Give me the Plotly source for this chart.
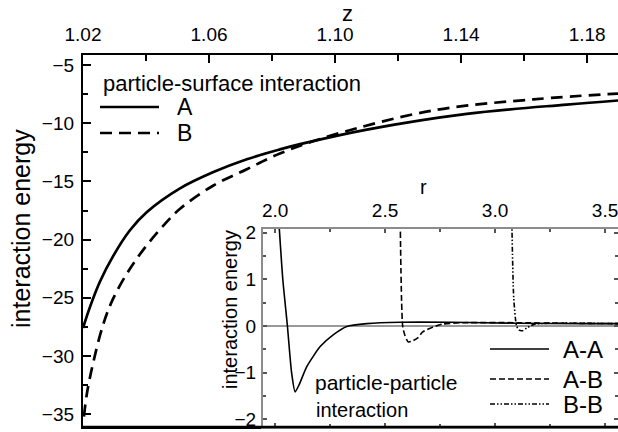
import plotly.graph_objects as go

# ---------------- data ----------------
z_A = [1.0200, 1.0222, 1.0254, 1.0296, 1.0349, 1.0402, 1.0508, 1.0614, 1.0720,
       1.0825, 1.0889, 1.1101, 1.1418, 1.1735, 1.1898]
E_A = [-27.6, -25.8, -23.6, -21.4, -19.2, -17.65, -15.6, -14.2, -13.1,
       -12.25, -11.8, -10.55, -9.2, -8.4, -8.05]

z_B = [1.0203, 1.0212, 1.0233, 1.0264, 1.0296, 1.0349, 1.0402, 1.0455, 1.0508,
       1.0614, 1.0720, 1.0825, 1.0995, 1.1312, 1.1630, 1.1898]
E_B = [-35.2, -33.3, -30.5, -27.3, -25.05, -22.5, -20.5, -18.8, -17.35,
       -15.35, -13.95, -12.6, -11.0, -8.9, -7.95, -7.45]

r_AA = [2.012, 2.035, 2.056, 2.075, 2.091, 2.11, 2.144, 2.205, 2.264, 2.326,
        2.417, 2.57, 2.8, 3.1, 3.4, 3.56]
E_AA = [2.6, 1.0, 0.0, -1.0, -1.41, -1.25, -0.87, -0.44, -0.19, -0.01,
        0.05, 0.08, 0.08, 0.06, 0.05, 0.05]

r_AB = [2.568, 2.58, 2.59, 2.605, 2.62, 2.65, 2.67, 2.72, 2.76, 2.85, 3.1, 3.3, 3.56]
E_AB = [2.6, 0.0, -0.2, -0.34, -0.33, -0.25, -0.13, -0.02, 0.04, 0.07, 0.07, 0.06, 0.05]

r_BB = [3.075, 3.085, 3.098, 3.11, 3.125, 3.145, 3.18, 3.3, 3.56]
E_BB = [2.6, 0.6, 0.0, -0.09, -0.1, -0.04, 0.04, 0.06, 0.05]

main_legend_title = "particle-surface interaction"
main_names = ["A", "B"]
inset_names = ["A-A", "A-B", "B-B"]
inset_label = ["particle-particle", "interaction"]

# ---------------- layout helpers ----------------
W, H = 618, 432
L, R, T, B = 83, 0, 55, 5
PW, PH = W - L - R, H - T - B


def px(x):
    return (x - L) / PW


def py(y):
    return (H - B - y) / PH


FONT = "Arial"
fig = go.Figure()

fig.add_trace(go.Scatter(x=z_A, y=E_A, mode="lines", line=dict(color="black", width=2.7, shape="spline", smoothing=1.0),
                         xaxis="x", yaxis="y", showlegend=False))
fig.add_trace(go.Scatter(x=z_B, y=E_B, mode="lines",
                         line=dict(color="black", width=2.7, dash="12px,7px", shape="spline", smoothing=1.0),
                         xaxis="x", yaxis="y", showlegend=False))

fig.add_trace(go.Scatter(x=r_AA, y=E_AA, mode="lines", line=dict(color="black", width=1.6, shape="spline", smoothing=0.6),
                         xaxis="x2", yaxis="y2", showlegend=False))
fig.add_trace(go.Scatter(x=r_AB, y=E_AB, mode="lines",
                         line=dict(color="black", width=1.6, dash="6px,3px", shape="spline", smoothing=0.6),
                         xaxis="x2", yaxis="y2", showlegend=False))
fig.add_trace(go.Scatter(x=r_BB, y=E_BB, mode="lines",
                         line=dict(color="black", width=1.6, dash="5px,2px,1.5px,2px,1.5px,2px", shape="spline", smoothing=0.6),
                         xaxis="x2", yaxis="y2", showlegend=False))

tickfont = dict(family=FONT, size=19, color="black")

fig.update_layout(
    width=W, height=H, template="none",
    margin=dict(l=L, r=R, t=T, b=B, pad=0),
    paper_bgcolor="white", plot_bgcolor="white",
    showlegend=False,
    xaxis=dict(domain=[0, 1], range=[1.02, 1.1898], side="top", showgrid=False, zeroline=False,
               showline=True, linecolor="black", linewidth=2.2, mirror=True,
               ticks="inside", ticklen=8, tickwidth=2, tickcolor="black",
               tick0=1.02, dtick=0.04, tickformat=".2f", tickfont=tickfont,
               minor=dict(ticks="inside", ticklen=6, tickwidth=2, tickcolor="black", dtick=0.02, tick0=1.02, showgrid=False),
               ticklabelstandoff=4, ticklabeloverflow="allow"),
    yaxis=dict(domain=[0, 1], range=[-36.1, -4.14], showgrid=False, zeroline=False,
               showline=True, linecolor="black", linewidth=2.2, mirror=True,
               ticks="inside", ticklen=8, tickwidth=2, tickcolor="black",
               tick0=-5, dtick=5, tickfont=tickfont,
               minor=dict(ticks="inside", ticklen=5, tickwidth=2, tickcolor="black", dtick=2.5, tick0=-5, showgrid=False),
               ticklabelstandoff=3),
    xaxis2=dict(domain=[px(263), 1.0], range=[1.945, 3.559], anchor="y2", side="top",
                showgrid=False, zeroline=False,
                showline=True, linecolor="#8c8c8c", linewidth=2, mirror="ticks",
                ticks="inside", ticklen=4, tickwidth=1.5, tickcolor="#555",
                tick0=2.0, dtick=0.5, tickformat=".1f", tickfont=tickfont,
                minor=dict(ticks="inside", ticklen=3, tickwidth=1.5, tickcolor="#555", dtick=0.25, tick0=2.0, showgrid=False),
                ticklabelstandoff=2, ticklabeloverflow="allow"),
    yaxis2=dict(domain=[0, py(229)], range=[-2.163, 2.077], anchor="x2",
                showgrid=False, zeroline=True, zerolinecolor="#999999", zerolinewidth=2,
                showline=True, linecolor="#8c8c8c", linewidth=2, mirror="ticks",
                ticks="inside", ticklen=4, tickwidth=1.5, tickcolor="#555",
                tick0=0, dtick=1, tickfont=tickfont,
                minor=dict(ticks="inside", ticklen=3, tickwidth=1.5, tickcolor="#555", dtick=0.5, tick0=0, showgrid=False),
                ticklabelstandoff=1),
)

# bottom frame line (black, over the inset's grey mirror line)
fig.add_shape(type="line", xref="paper", yref="paper", x0=0, x1=1, y0=0, y1=0,
              line=dict(color="black", width=2.4), layer="above")

anns = []
# axis titles
anns.append(dict(text="z", x=px(347), y=py(13.5), font=dict(family=FONT, size=22)))
anns.append(dict(text="interaction energy", x=px(21), y=py(229), textangle=-90, font=dict(family=FONT, size=25)))
anns.append(dict(text="r", x=px(423), y=py(187), font=dict(family=FONT, size=20)))
anns.append(dict(text="interaction energy", x=px(230), y=py(310), textangle=-90, font=dict(family=FONT, size=20)))

# main legend
anns.append(dict(text=main_legend_title, x=px(101), y=py(83), xanchor="left", font=dict(family=FONT, size=22)))
main_rows = [107, 133]
main_dash = ["solid", "12px,7px"]
for name, yy, dsh in zip(main_names, main_rows, main_dash):
    fig.add_shape(type="line", xref="paper", yref="paper", x0=px(100), x1=px(159), y0=py(yy), y1=py(yy),
                  line=dict(color="black", width=2.7, dash=dsh), layer="above")
    anns.append(dict(text=name, x=px(175), y=py(yy), xanchor="left", font=dict(family=FONT, size=23)))

# inset legend
inset_rows = [349, 379, 404]
inset_dash = ["solid", "6px,3px", "5px,2px,1.5px,2px,1.5px,2px"]
for name, yy, dsh in zip(inset_names, inset_rows, inset_dash):
    fig.add_shape(type="line", xref="paper", yref="paper", x0=px(490), x1=px(549), y0=py(yy), y1=py(yy),
                  line=dict(color="black", width=1.6, dash=dsh), layer="above")
    anns.append(dict(text=name, x=px(561), y=py(yy), xanchor="left", font=dict(family=FONT, size=24)))

anns.append(dict(text=inset_label[0], x=px(313), y=py(382), xanchor="left", font=dict(family=FONT, size=21)))
anns.append(dict(text=inset_label[1], x=px(314), y=py(410), xanchor="left", font=dict(family=FONT, size=20)))

for a in anns:
    a.setdefault("xref", "paper")
    a.setdefault("yref", "paper")
    a.setdefault("showarrow", False)
    a.setdefault("xanchor", "center")
    a.setdefault("yanchor", "middle")
    a["font"]["color"] = "black"
fig.update_layout(annotations=anns)

fig.write_html("out.html")
